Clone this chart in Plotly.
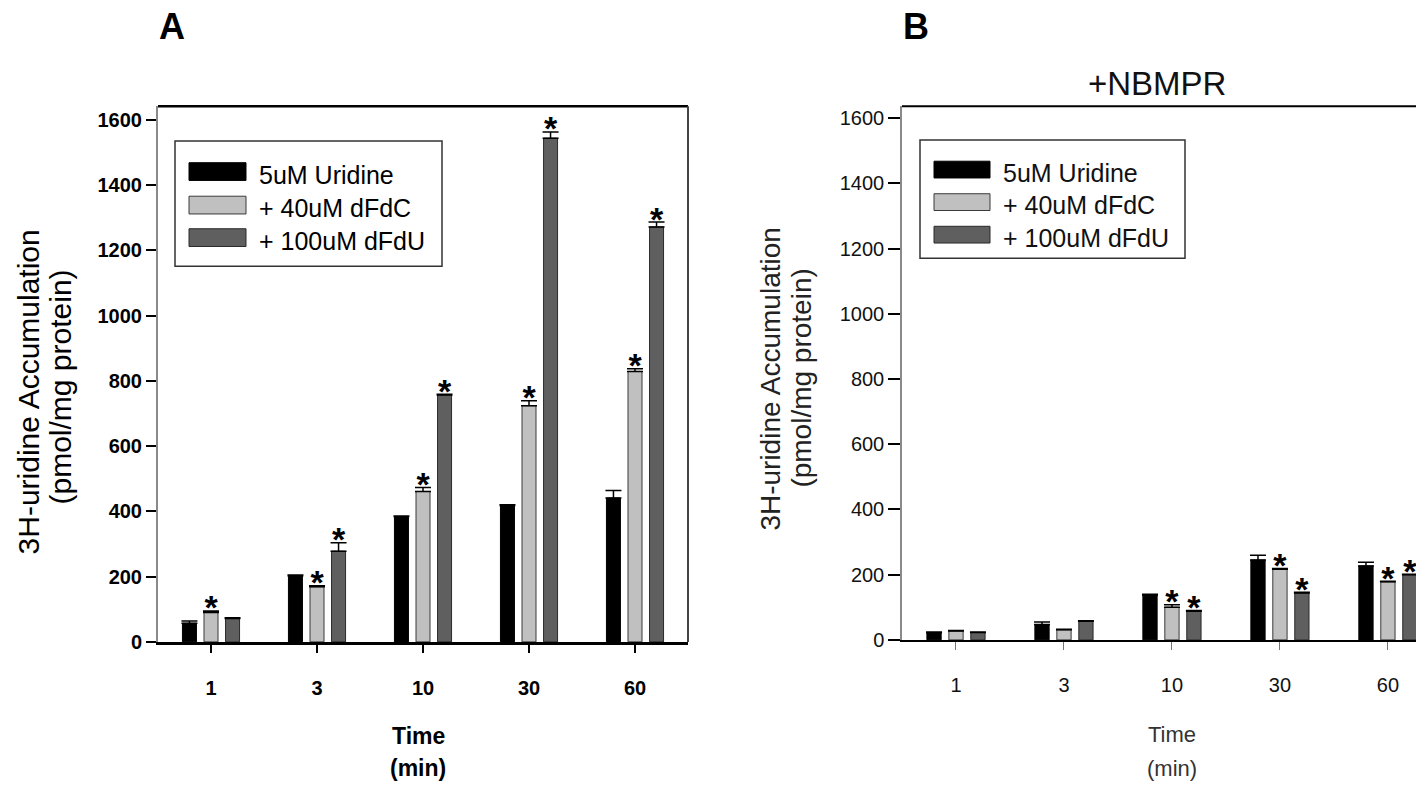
import plotly.graph_objects as go

# Uptake time points (min)
times = ["1", "3", "10", "30", "60"]
series_names = ["5uM Uridine", "+ 40uM dFdC", "+ 100uM dFdU"]

# Panel A: 3H-uridine accumulation (pmol/mg protein), mean and upper SE
uridine_a = [57, 203, 384, 418, 441]
uridine_a_err = [7, 2, 2, 2, 23]
dfdc_a = [90, 169, 461, 724, 829]
dfdc_a_err = [5, 3, 12, 15, 8]
dfdu_a = [72, 278, 757, 1544, 1272]
dfdu_a_err = [2, 26, 2, 19, 15]
uridine_a_sig = [0, 0, 0, 0, 0]
dfdc_a_sig = [1, 1, 1, 1, 1]
dfdu_a_sig = [0, 1, 1, 1, 1]

# Panel B: same design in the presence of NBMPR
uridine_b = [22, 47, 138, 245, 227]
uridine_b_err = [2, 8, 2, 15, 11]
dfdc_b = [27, 31, 100, 217, 178]
dfdc_b_err = [2, 2, 8, 2, 2]
dfdu_b = [23, 57, 88, 144, 200]
dfdu_b_err = [1, 2, 2, 2, 1]
uridine_b_sig = [0, 0, 0, 0, 0]
dfdc_b_sig = [0, 0, 1, 1, 1]
dfdu_b_sig = [0, 0, 1, 1, 1]

y_ticks = [0, 200, 400, 600, 800, 1000, 1200, 1400, 1600]

fill_colors = ["#000000", "#c0c0c0", "#5f5f5f"]
edge_colors = ["#000000", "#3a3a3a", "#2a2a2a"]

W, H = 1416, 785
FONT = "Liberation Sans, Arial, sans-serif"


def px(x):
    return x / W


def py(y):
    return 1 - y / H


fig = go.Figure()

panels = [
    ("x", "y",
     [uridine_a, dfdc_a, dfdu_a],
     [uridine_a_err, dfdc_a_err, dfdu_a_err],
     [uridine_a_sig, dfdc_a_sig, dfdu_a_sig]),
    ("x2", "y2",
     [uridine_b, dfdc_b, dfdu_b],
     [uridine_b_err, dfdc_b_err, dfdu_b_err],
     [uridine_b_sig, dfdc_b_sig, dfdu_b_sig]),
]

for xa, ya, vals, errs, sigs in panels:
    for i in range(3):
        fig.add_trace(go.Bar(
            x=times, y=vals[i], name=series_names[i], xaxis=xa, yaxis=ya,
            marker=dict(color=fill_colors[i], line=dict(color=edge_colors[i], width=1)),
            error_y=dict(type="data", symmetric=False, array=errs[i],
                         arrayminus=[0] * len(times), color="#000000",
                         thickness=1.5, width=8),
            showlegend=False, hoverinfo="skip",
        ))
    # significance markers sit just above each error cap
    for i in range(3):
        ys = [v + e if s else None for v, e, s in zip(vals[i], errs[i], sigs[i])]
        fig.add_trace(go.Scatter(
            x=times, y=ys, xaxis=xa, yaxis=ya, mode="text",
            text=["*" if s else "" for s in sigs[i]],
            textposition="middle center",
            textfont=dict(family=FONT, size=34, color="#000000", weight="bold"),
            showlegend=False, hoverinfo="skip",
        ))

fig.update_layout(
    width=W, height=H,
    margin=dict(l=0, r=0, t=0, b=0),
    paper_bgcolor="white", plot_bgcolor="white",
    barmode="group", bargap=0.39, bargroupgap=0.35,
    scattermode="group", scattergap=0.39,
    font=dict(family=FONT, color="#000000"),
    xaxis=dict(domain=[px(158), px(688)], anchor="y", type="category",
               range=[-0.5, 4.5], showline=True, linecolor="#000000", linewidth=2.5,
               ticks="outside", ticklen=8, tickwidth=2, tickcolor="#000000",
               ticklabelstandoff=18,
               tickfont=dict(family=FONT, size=20, color="#000000", weight="bold"),
               showgrid=False, zeroline=False, fixedrange=True),
    yaxis=dict(domain=[py(651), py(107.7)], anchor="x", range=[0, 1642],
               tickvals=y_ticks, showline=True, linecolor="#8a8a8a", linewidth=2,
               ticks="outside", ticklen=10, tickwidth=2, tickcolor="#000000",
               tickfont=dict(family=FONT, size=20, color="#000000", weight="bold"),
               showgrid=False, zeroline=False, fixedrange=True),
    xaxis2=dict(domain=[px(902), 1.0], anchor="y2", type="category",
                range=[-0.5, 4.26], showline=True, linecolor="#000000", linewidth=2,
                ticks="outside", ticklen=8, tickwidth=1, tickcolor="#777777",
                ticklabelstandoff=18,
                tickfont=dict(family=FONT, size=20, color="#111111"),
                showgrid=False, zeroline=False, fixedrange=True),
    yaxis2=dict(domain=[py(649), py(107.7)], anchor="x2", range=[0, 1637],
                tickvals=y_ticks, showline=True, linecolor="#8a8a8a", linewidth=1.5,
                ticks="outside", ticklen=12, tickwidth=1.5, tickcolor="#000000",
                tickfont=dict(family=FONT, size=20, color="#111111"),
                showgrid=False, zeroline=False, fixedrange=True),
)

shapes = [
    # frame of panel A: top and right edges
    dict(type="line", xref="x domain", yref="y domain", x0=0, x1=1, y0=1, y1=1,
         line=dict(color="#000000", width=2.5)),
    dict(type="line", xref="x domain", yref="y domain", x0=1, x1=1, y0=0, y1=1,
         line=dict(color="#444444", width=2)),
    # top edge of panel B
    dict(type="line", xref="x2 domain", yref="y2 domain", x0=0, x1=1, y0=1, y1=1,
         line=dict(color="#000000", width=2)),
]

annotations = []


def text(x, y, s, size, bold=False, angle=0, color="#000000", xanchor="center"):
    annotations.append(dict(
        x=px(x), y=py(y), xref="paper", yref="paper", text=s, showarrow=False,
        textangle=angle, xanchor=xanchor, yanchor="middle",
        font=dict(family=FONT, size=size, color=color,
                  weight="bold" if bold else "normal"),
    ))


def legend_box(left, top, right, bottom, rows_y, sw_left, sw_right, sw_h, text_x, color):
    shapes.append(dict(type="rect", xref="paper", yref="paper",
                       x0=px(left), x1=px(right), y0=py(bottom), y1=py(top),
                       line=dict(color="#333333", width=1.5), fillcolor="white", layer="above"))
    for name, ry, fc, ec in zip(series_names, rows_y, fill_colors, edge_colors):
        shapes.append(dict(type="rect", xref="paper", yref="paper",
                           x0=px(sw_left), x1=px(sw_right),
                           y0=py(ry + sw_h / 2), y1=py(ry - sw_h / 2),
                           line=dict(color=ec, width=1), fillcolor=fc, layer="above"))
        text(text_x, ry + 3, name, 25, color=color, xanchor="left")


legend_box(175, 143, 442, 270, [174, 208, 241], 189, 246, 18, 257, "#000000")
legend_box(920, 142, 1185, 262, [172, 205, 238], 934, 990, 17, 1001, "#111111")

# panel letters and panel B title
text(172, 27, "A", 36, bold=True)
text(916, 27, "B", 36, bold=True)
text(1157, 85, "+NBMPR", 33, color="#111111")

# y-axis titles
text(28, 398, "3H-uridine Accumulation", 30, angle=-90)
text(60, 393, "(pmol/mg protein)", 30, angle=-90)
text(771, 384, "3H-uridine Accumulation", 28, angle=-90, color="#222222")
text(802, 384, "(pmol/mg protein)", 28, angle=-90, color="#222222")

# x-axis titles
text(418, 746, "Time", 23, bold=True)
text(418, 779, "(min)", 23, bold=True)
text(1172, 745, "Time", 22, color="#333333")
text(1172, 779, "(min)", 22, color="#333333")

fig.update_layout(shapes=shapes, annotations=annotations)

fig.write_html("out.html")
